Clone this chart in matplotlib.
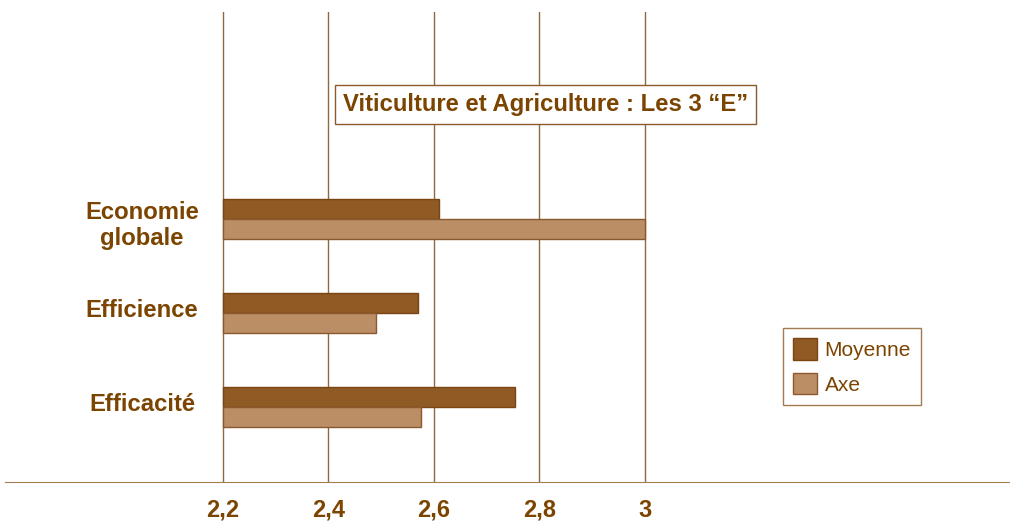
import matplotlib.pyplot as plt
import numpy as np

# Data
categories = ["Efficacité", "Efficience", "Economie\nglobale"]
moyenne = [2.754, 2.570, 2.610]
axe = [2.575, 2.490, 3.0]
ticks = [2.2, 2.4, 2.6, 2.8, 3.0]
tick_labels = ["2,2", "2,4", "2,6", "2,8", "3"]
base = 2.2

text_col = '#7B4400'
dark = '#8F5A24'
light = '#BB8E66'
grid_col = '#8B6A45'

plt.rcParams['font.family'] = ['Liberation Sans', 'DejaVu Sans']

fig = plt.figure(figsize=(10.10, 5.21), dpi=100)
ax = fig.add_axes([5 / 1010, 1 - 482 / 521, 1 - 5 / 1010, (482 - 12) / 521])

y = np.arange(len(categories))
h = 0.213
ax.barh(y + h / 2, np.array(moyenne) - base, left=base, height=h, color=dark,
        edgecolor='#7A4512', linewidth=1, label='Moyenne', zorder=3)
ax.barh(y - h / 2, np.array(axe) - base, left=base, height=h, color=light,
        edgecolor='#8A5A2E', linewidth=1, label='Axe', zorder=3)

for t in ticks:
    ax.axvline(t, color=grid_col, linewidth=1, zorder=1)

ax.set_xlim(1.787, 3.692)
ax.set_ylim(-0.80, 4.20)
ax.set_xticks(ticks)
ax.set_xticklabels(tick_labels, fontsize=17, fontweight='bold', color=text_col)
ax.tick_params(axis='x', length=0, pad=12)
ax.set_yticks([])
for s in ['top', 'right', 'left']:
    ax.spines[s].set_visible(False)
ax.spines['bottom'].set_color('#A67C52')

# category labels, nudged so they sit like the original
for yi, c in zip(y, categories):
    off = -0.07 if '\n' in c else 0.025
    ax.text(2.047, yi + off, c, ha='center', va='center', fontsize=17.2, fontweight='bold',
            color=text_col, linespacing=1.15)

ax.text(2.811, 3.215, 'Viticulture et Agriculture : Les 3 \u201cE\u201d', ha='center', va='center',
        fontsize=17.2, fontweight='bold', color=text_col,
        bbox=dict(boxstyle='square,pad=0.33', facecolor='white', edgecolor='#8B5A2B', linewidth=1),
        zorder=5)

leg = ax.legend(loc='upper left', bbox_to_anchor=(783 / 1010, 1 - 328 / 521),
                bbox_transform=fig.transFigure, fontsize=15, frameon=True, fancybox=False,
                handlelength=1.15, handleheight=1.2, labelspacing=0.62, borderpad=0.5,
                handletextpad=0.35, borderaxespad=0)
leg.get_frame().set_edgecolor('#8B5A2B')
leg.get_frame().set_linewidth(1)
for t in leg.get_texts():
    t.set_color(text_col)

fig.savefig('out.png', dpi=100)
